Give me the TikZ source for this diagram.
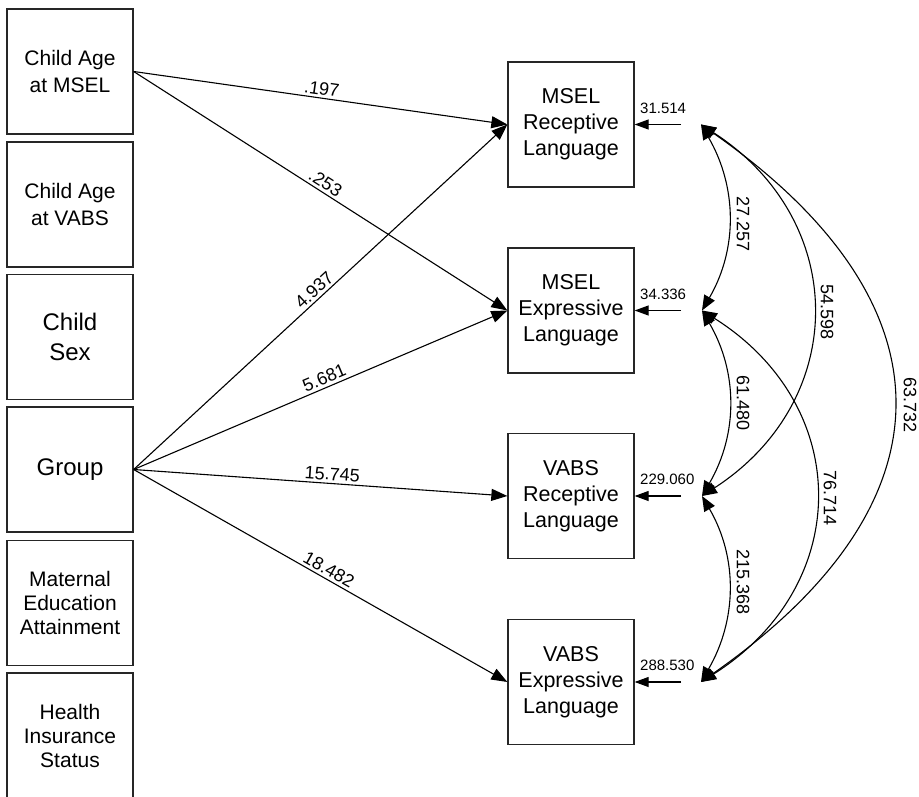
\documentclass[tikz,border=0pt]{standalone}
\usepackage{fontspec}
\setmainfont{Liberation Sans}
\usetikzlibrary{arrows.meta}
\begin{document}
\begin{tikzpicture}[x=1pt,y=-1pt,
  box/.style={draw=black!85, line width=1.3pt, minimum width=126pt, minimum height=125pt, align=center, inner sep=0pt, font=\fontsize{21}{27}\selectfont},
  bigbox/.style={box, font=\fontsize{24}{30}\selectfont},
  rbox/.style={box, font=\fontsize{21.5}{26}\selectfont},
  arr/.style={line width=1.1pt, -{Triangle[length=16pt,width=12pt]}},
  lab/.style={font=\fontsize{18}{20}\selectfont, inner sep=2.5pt},
  rarr/.style={line width=1.1pt, -{Triangle[length=14pt,width=10pt]}},
  rlab/.style={font=\fontsize{15}{17}\selectfont, inner sep=0pt, anchor=base west},
  cov/.style={line width=1.1pt, {Triangle[length=15pt,width=12pt]}-{Triangle[length=15pt,width=12pt]}},
  clab/.style={font=\fontsize{18}{20}\selectfont, inner sep=0pt, rotate=-90}
]
\useasboundingbox (0,0) rectangle (919,797);

% left boxes
\node[box] (cam) at (70,71.5) {Child Age\\at MSEL};
\node[box] (cav) at (70,204.5) {Child Age\\at VABS};
\node[bigbox] (sex) at (70,337) {Child\\Sex};
\node[bigbox] (grp) at (70,469.5) {Group};
\node[box, font=\fontsize{21}{24}\selectfont] (mat) at (70,603) {Maternal\\Education\\Attainment};
\node[box, font=\fontsize{21}{24}\selectfont] (ins) at (70,735.5) {Health\\Insurance\\Status};

% right boxes
\node[rbox] (mr) at (571,124.5) {MSEL\\Receptive\\Language};
\node[rbox] (me) at (571,310.5) {MSEL\\Expressive\\Language};
\node[rbox] (vr) at (571,496) {VABS\\Receptive\\Language};
\node[rbox] (ve) at (571,682) {VABS\\Expressive\\Language};

% paths
\draw[arr] (cam.east) -- (mr.west) node[lab, sloped, above, pos=.5] {.197};
\draw[arr] (cam.east) -- (me.west) node[lab, sloped, above, pos=.5] {.253};
\draw[arr] (grp.east) -- (mr.west) node[lab, sloped, above, pos=.5] {4.937};
\draw[arr] (grp.east) -- (me.west) node[lab, sloped, above, pos=.52] {5.681};
\draw[arr] (grp.east) -- (vr.west) node[lab, sloped, above, pos=.53] {15.745};
\draw[arr] (grp.east) -- (ve.west) node[lab, sloped, above, pos=.51] {18.482};

% residuals
\coordinate (r1) at (681,124.5);
\coordinate (r2) at (681,310.5);
\coordinate (r3) at (681,496);
\coordinate (r4) at (681,682);
\draw[rarr] (r1) -- (mr.east);
\draw[rarr] (r2) -- (me.east);
\draw[rarr] (r3) -- (vr.east);
\draw[rarr] (r4) -- (ve.east);
\node[rlab] (e1) at (640,113.5) {31.514};
\node[rlab] (e2) at (640,299.5) {34.336};
\node[rlab] (e3) at (640,484.5) {229.060};
\node[rlab] (e4) at (640,670.5) {288.530};

% covariances
\coordinate (c1) at (701,124.5);
\coordinate (c2) at (702,310.5);
\coordinate (c3) at (702,496);
\coordinate (c4) at (701,682);
\draw[cov] (c1) .. controls +(36,62) and +(36,-62) .. (c2);
\draw[cov] (c2) .. controls +(36,62) and +(36,-62) .. (c3);
\draw[cov] (c3) .. controls +(36,62) and +(36,-62) .. (c4);
\draw[cov] (c1) .. controls +(148,96) and +(148,-96) .. (c3);
\draw[cov] (c2) .. controls +(152,96) and +(152,-96) .. (c4);
\draw[cov] (c1) .. controls +(256,179) and +(256,-179) .. (c4);
\node[clab] (k12) at (743,224) {27.257};
\node[clab] (k23) at (743,403) {61.480};
\node[clab] (k34) at (743,582) {215.368};
\node[clab] (k13) at (827,312) {54.598};
\node[clab] (k24) at (830,498) {76.714};
\node[clab] (k14) at (910,405) {63.732};
\end{tikzpicture}
\end{document}
